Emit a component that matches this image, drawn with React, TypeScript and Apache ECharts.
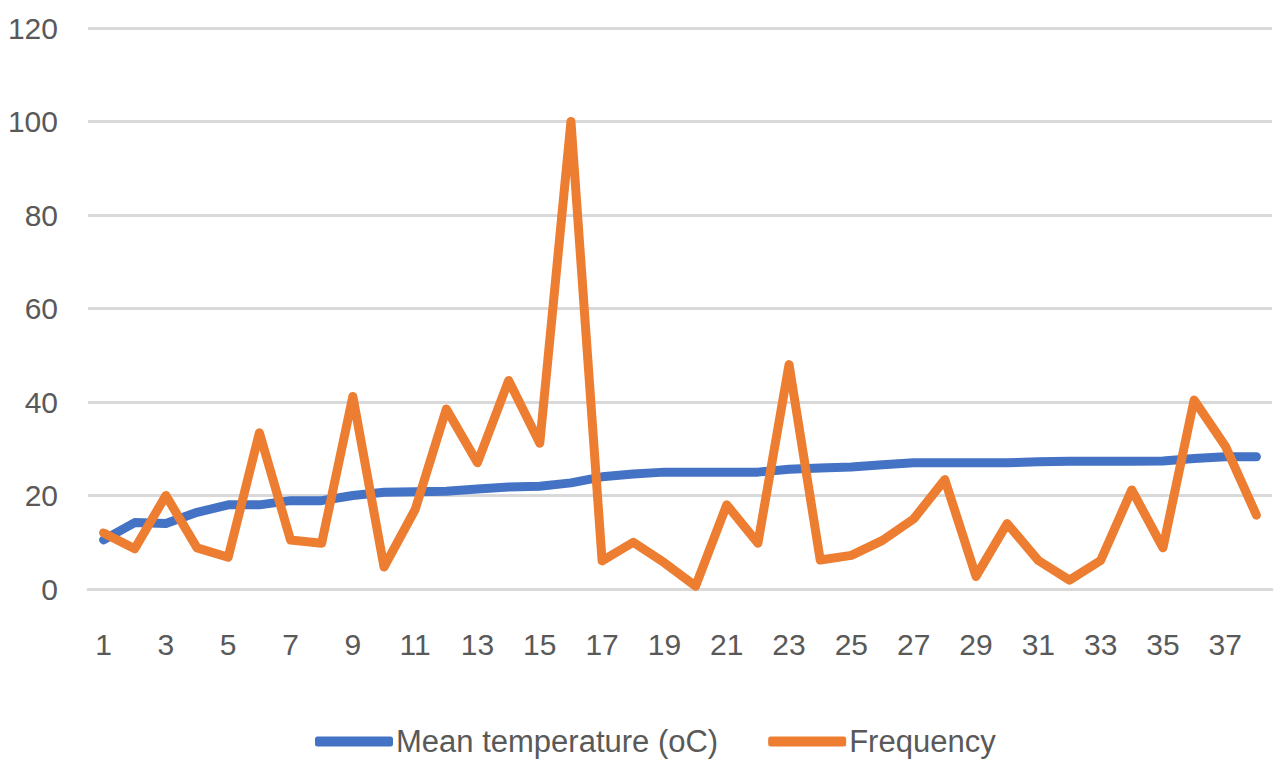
import React, { useEffect, useRef } from "react";
import * as echarts from "echarts";

// Day index along the x axis
const days: string[] = Array.from({ length: 38 }, (_, i) => String(i + 1));

const meanTemperature: number[] = [
  10.5, 14.2, 14, 16.4, 18, 18, 18.9, 18.9, 20, 20.7,
  20.8, 20.9, 21.4, 21.8, 22, 22.7, 24, 24.6, 25, 25,
  25, 25, 25.6, 25.9, 26.1, 26.6, 27, 27, 27, 27,
  27.2, 27.3, 27.3, 27.3, 27.4, 27.9, 28.3, 28.3,
];

const frequency: number[] = [
  12, 8.6, 20, 8.8, 6.8, 33.4, 10.5, 9.8, 41.2, 4.7,
  17, 38.5, 27, 44.6, 31.2, 100, 6, 10, 5.6, 0.6,
  18, 9.8, 48, 6.2, 7.2, 10.4, 15, 23.4, 2.7, 14,
  6.1, 1.9, 6.1, 21.2, 8.8, 40.4, 30.6, 15.8,
];

const yTicks = { min: 0, max: 120, interval: 20 };

const FONT = "'Liberation Sans', Arial, sans-serif";
const TEXT = "#595959";
const GRID = "#d9d9d9";

export default function App() {
  const ref = useRef<HTMLDivElement>(null);

  useEffect(() => {
    if (!ref.current) return;
    const chart = echarts.init(ref.current, undefined, { renderer: "svg" });
    chart.setOption({
      animation: false,
      backgroundColor: "#ffffff",
      textStyle: { fontFamily: FONT },
      grid: { left: 88, right: 12, top: 28, bottom: 175, containLabel: false },
      legend: {
        bottom: 2,
        left: 310,
        itemWidth: 78,
        itemHeight: 10,
        itemGap: 50,
        icon: "roundRect",
        textStyle: { color: TEXT, fontSize: 31, fontFamily: FONT, padding: [0, 0, 0, -2] },
        data: ["Mean temperature (oC)", "Frequency"],
      },
      xAxis: {
        type: "category",
        data: days,
        boundaryGap: true,
        axisLine: { show: true, lineStyle: { color: GRID, width: 3 } },
        axisTick: { show: false },
        axisLabel: {
          interval: 1,
          color: TEXT,
          fontSize: 30,
          fontFamily: FONT,
          margin: 40,
        },
      },
      yAxis: {
        type: "value",
        min: yTicks.min,
        max: yTicks.max,
        interval: yTicks.interval,
        axisLine: { show: false },
        axisTick: { show: false },
        axisLabel: { color: TEXT, fontSize: 30, fontFamily: FONT, margin: 30 },
        splitLine: { lineStyle: { color: GRID, width: 3 } },
      },
      series: [
        {
          name: "Mean temperature (oC)",
          type: "line",
          data: meanTemperature,
          showSymbol: false,
          symbol: "none",
          lineStyle: { color: "#4472C4", width: 9, cap: "round", join: "round" },
          itemStyle: { color: "#4472C4" },
        },
        {
          name: "Frequency",
          type: "line",
          data: frequency,
          showSymbol: false,
          symbol: "none",
          lineStyle: { color: "#ED7D31", width: 9, cap: "round", join: "round" },
          itemStyle: { color: "#ED7D31" },
        },
      ],
    });
    return () => chart.dispose();
  }, []);

  return (
    <div
      ref={ref}
      style={{ position: "fixed", left: 0, top: 0, width: 1284, height: 764 }}
    />
  );
}
